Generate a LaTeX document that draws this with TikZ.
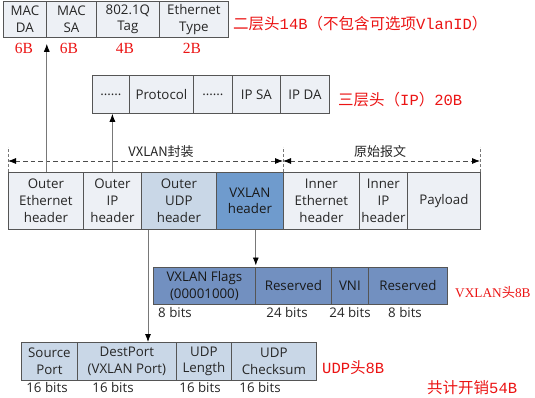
\documentclass[tikz,border=0pt]{standalone}
\usepackage{fontspec}
\setmainfont{Open Sans}
\newfontfamily\cjk{Noto Sans CJK SC}
\newfontfamily\rserif{Liberation Serif}
\newfontfamily\rmono{Liberation Mono}
\usetikzlibrary{arrows.meta}

\definecolor{cellgray}{RGB}{237,240,245}
\definecolor{udpblue}{RGB}{201,215,231}
\definecolor{vxhblue}{RGB}{111,155,205}
\definecolor{vxrow}{RGB}{114,144,192}
\definecolor{edge}{RGB}{85,85,85}
\definecolor{lbl}{RGB}{235,20,20}
\definecolor{linegray}{RGB}{120,120,120}

\begin{document}
\begin{tikzpicture}[x=1pt,y=-1pt,
  cell/.style={draw=edge, line width=0.8pt, anchor=north west, inner sep=0pt,
    align=center, fill=cellgray, text=black!85,
    font=\fontsize{13.3}{16.7}\selectfont},
  udpcell/.style={cell, fill=udpblue},
  vxcell/.style={cell, fill=vxhblue, text=black!90},
  vxrowcell/.style={cell, fill=vxrow, text=black!90},
  bits/.style={inner sep=0pt, text=black!85, font=\fontsize{13.3}{15}\selectfont},
  redtag/.style={inner sep=0pt, anchor=west, text=lbl, font=\fontsize{15.5}{18}\selectfont},
  redsize/.style={inner sep=0pt, text=lbl, font=\rserif\fontsize{15.5}{18}\selectfont},
  dimtext/.style={inner sep=0pt, text=black!85, font=\cjk\fontsize{13}{15}\selectfont},
  arr/.style={draw=linegray, line width=0.8pt, -{Latex[length=8pt,width=6pt,color=black]}},
  dimline/.style={draw=black!70, line width=0.8pt, dash pattern=on 4.5pt off 3pt,
    {Latex[length=8pt,width=6pt,color=black]}-{Latex[length=8pt,width=6pt,color=black]}},
  tick/.style={draw=linegray, line width=0.8pt, dash pattern=on 3pt off 2pt}]

\useasboundingbox (0,0) rectangle (535,398);

% ---- Layer-2 header ----
\node[cell, minimum width=43pt, minimum height=36pt] (mda) at (3,1) {MAC\\DA};
\node[cell, minimum width=50pt, minimum height=36pt] (msa) at (46,1) {MAC\\SA};
\node[cell, minimum width=63pt, minimum height=36pt] (tag) at (96,1) {802.1Q\\Tag};
\node[cell, minimum width=69pt, minimum height=36pt] (etype) at (159,1) {Ethernet\\Type};
\node[redtag] (l2lbl) at (233,24) {\cjk 二层头\rmono 14B\cjk （不包含可选项\rmono VlanID\cjk ）};
\node[redsize] (s1) at (24,48) {6B};
\node[redsize] (s2) at (69,48) {6B};
\node[redsize] (s3) at (125,48) {4B};
\node[redsize] (s4) at (192,48) {2B};

% ---- Layer-3 header ----
\node[cell, minimum width=37pt, minimum height=38pt] (ipa) at (92,75) {......};
\node[cell, minimum width=64pt, minimum height=38pt] (ipb) at (129,75) {Protocol};
\node[cell, minimum width=39pt, minimum height=38pt] (ipc) at (193,75) {......};
\node[cell, minimum width=48pt, minimum height=38pt] (ipd) at (232,75) {IP SA};
\node[cell, minimum width=49pt, minimum height=38pt] (ipe) at (280,75) {IP DA};
\node[redtag] (l3lbl) at (338,100) {\cjk 三层头（\rmono IP\cjk ）\rmono 20B};

% ---- Encapsulated frame ----
\node[cell, minimum width=75pt, minimum height=57pt] (oeth) at (8,172) {Outer\\Ethernet\\header};
\node[cell, minimum width=58pt, minimum height=57pt] (oip) at (83,172) {Outer\\IP\\header};
\node[udpcell, minimum width=75pt, minimum height=57pt] (oudp) at (141,172) {Outer\\UDP\\header};
\node[vxcell, minimum width=67pt, minimum height=57pt] (vxh) at (216,172) {VXLAN\\header};
\node[cell, minimum width=76pt, minimum height=57pt] (ieth) at (283,172) {Inner\\Ethernet\\header};
\node[cell, minimum width=48pt, minimum height=57pt] (iip) at (359,172) {Inner\\IP\\header};
\node[cell, minimum width=73pt, minimum height=57pt] (pay) at (407,172) {Payload};

% dimension lines above the frame
\coordinate (d1) at (8,161);
\coordinate (d2) at (283,161);
\coordinate (d3) at (480,161);
\draw[tick] (oeth.north west) -- ++(0,-25);
\draw[tick] (vxh.north east) -- ++(0,-25);
\draw[tick] (pay.north east) -- ++(0,-25);
\draw[dimline] (d1) -- (d2);
\draw[dimline] (d2) -- (d3);
\node[dimtext] (encap) at (161,152) {VXLAN封装};
\node[dimtext] (orig) at (380,152) {原始报文};

% ---- VXLAN header fields ----
\node[vxrowcell, minimum width=102pt, minimum height=37pt] (vflag) at (153,267) {VXLAN Flags\\(00001000)};
\node[vxrowcell, minimum width=76pt, minimum height=37pt] (vres1) at (255,267) {Reserved};
\node[vxrowcell, minimum width=37pt, minimum height=37pt] (vni) at (331,267) {VNI};
\node[vxrowcell, minimum width=79pt, minimum height=37pt] (vres2) at (368,267) {Reserved};
\node[bits, anchor=west] (b1) at (158,313) {8 bits};
\node[bits] (b2) at (287,313) {24 bits};
\node[bits] (b3) at (350,313) {24 bits};
\node[bits] (b4) at (405,313) {8 bits};
\node[redtag, font=\rserif\fontsize{13.3}{16}\selectfont] (vxlbl) at (455,292) {VXLAN\cjk 头\rserif 8B};

% ---- UDP header fields ----
\node[udpcell, minimum width=56pt, minimum height=38pt] (sport) at (21,342) {Source\\Port};
\node[udpcell, minimum width=99pt, minimum height=38pt] (dport) at (77,342) {DestPort\\(VXLAN Port)};
\node[udpcell, minimum width=55pt, minimum height=38pt] (ulen) at (176,342) {UDP\\Length};
\node[udpcell, minimum width=85pt, minimum height=38pt] (ucsum) at (231,342) {UDP\\Checksum};
\node[bits] (u1) at (47,388) {16 bits};
\node[bits] (u2) at (113,388) {16 bits};
\node[bits] (u3) at (200,388) {16 bits};
\node[bits] (u4) at (260,388) {16 bits};
\node[redtag] (udplbl) at (322,368) {\rmono UDP\cjk 头\rmono 8B};
\node[redtag] (total) at (427,388) {\cjk 共计开销\rmono 54B};

% ---- connectors ----
\draw[arr, shorten >=6pt] (oeth.north -| mda.south east) -- (mda.south east);
\draw[arr] (oip.north) -- (oip.north |- ipa.south);
\draw[arr] ([xshift=7pt]oudp.south west) -- ([xshift=7pt]oudp.south west |- dport.north);
\draw[arr, shorten >=1.5pt] (vflag.north east |- vxh.south) -- (vflag.north east);
\end{tikzpicture}
\end{document}
